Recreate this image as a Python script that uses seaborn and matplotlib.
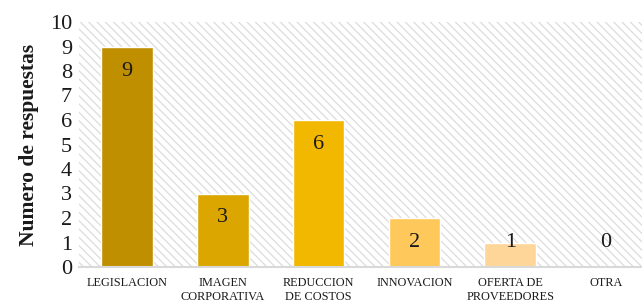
import matplotlib
matplotlib.use('Agg')
import matplotlib.pyplot as plt
import seaborn as sns
import pandas as pd

# datos
categorias = ['LEGISLACION', 'IMAGEN\nCORPORATIVA', 'REDUCCION\nDE COSTOS',
              'INNOVACION', 'OFERTA DE\nPROVEEDORES', 'OTRA']
respuestas = [9, 3, 6, 2, 1, 0]
colores = ['#BF8F00', '#DCA600', '#F2B800', '#FFC85A', '#FFD699', '#FFE9C4']

df = pd.DataFrame({'cat': categorias, 'n': respuestas})

sns.set_style('white')
plt.rcParams['font.family'] = ['Liberation Serif', 'DejaVu Serif']
plt.rcParams['hatch.linewidth'] = 0.9

fig = plt.figure(figsize=(6.42, 3.03), dpi=100)
ax = fig.add_axes([79 / 642, 36 / 303, 575 / 642, 245 / 303])

# fondo rayado
ax.patch.set_facecolor('white')
ax.patch.set_hatch('\\\\\\\\')
ax.patch.set_edgecolor('#DCDCDC')
ax.patch.set_linewidth(0)

sns.barplot(data=df, x='cat', y='n', hue='cat', palette=colores,
            legend=False, width=0.54, saturation=1, ax=ax)

ax.set_xlim(-0.5, 5.5)
ax.set_ylim(0, 10)
ax.set_yticks(range(0, 11))
ax.tick_params(axis='y', labelsize=16, length=0, pad=5, labelcolor='#1a1a1a')
ax.tick_params(axis='x', labelsize=8.8, length=0, pad=7, labelcolor='#1a1a1a')
for lbl in ax.get_xticklabels():
    lbl.set_linespacing(1.25)
ax.set_xlabel('')
ax.set_ylabel('Numero de respuestas', fontsize=15.5, fontweight='bold',
              labelpad=8, color='#1a1a1a')

for s in ['top', 'right', 'left']:
    ax.spines[s].set_visible(False)
ax.spines['bottom'].set_color('#D9D9D9')
ax.spines['bottom'].set_linewidth(1.5)

# etiquetas de datos
for i, v in enumerate(respuestas):
    ax.text(i, max(v, 2) - 1, str(v), ha='center', va='center', fontsize=16,
            color='#1a1a1a')

plt.savefig('out.png', dpi=100)
